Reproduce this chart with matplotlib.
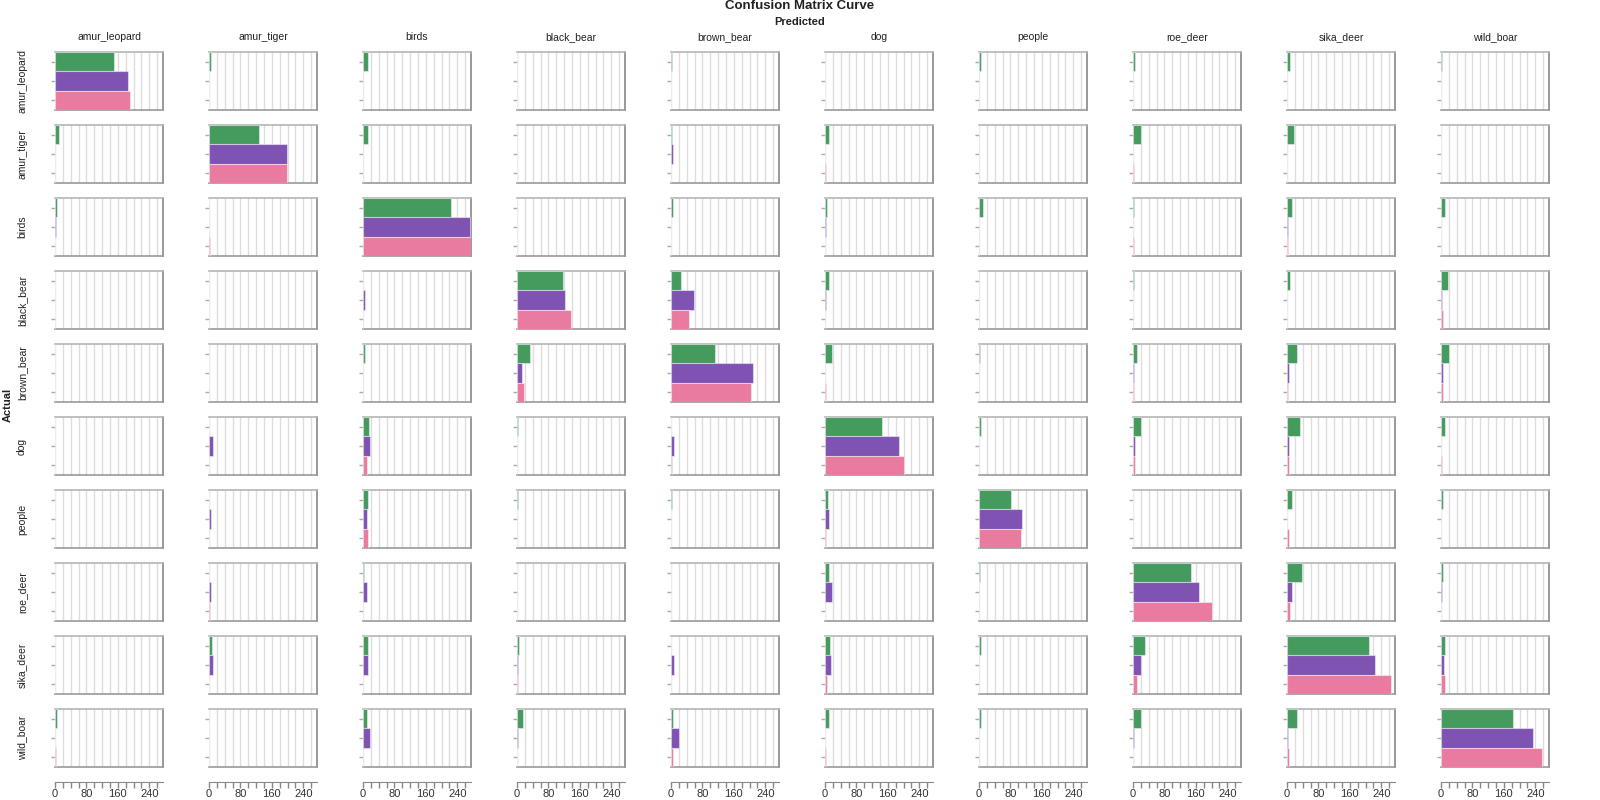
import numpy as np
import matplotlib
matplotlib.use("Agg")
import matplotlib.pyplot as plt
from matplotlib.ticker import MultipleLocator

plt.rcParams['font.family'] = ['Liberation Sans', 'DejaVu Sans']

# class names (actual = rows, predicted = columns)
classes = ["amur_leopard", "amur_tiger", "birds", "black_bear", "brown_bear",
           "dog", "people", "roe_deer", "sika_deer", "wild_boar"]

# three series per cell
green_counts = [
    [149, 5, 12, 0, 2, 1, 4, 4, 7, 3],
    [11, 128, 12, 0, 2, 9, 1, 20, 17, 1],
    [5, 1, 225, 1, 5, 5, 11, 2, 14, 10],
    [1, 0, 1, 118, 25, 11, 1, 3, 7, 18],
    [1, 1, 6, 32, 112, 17, 2, 11, 26, 20],
    [0, 1, 15, 3, 1, 144, 6, 20, 32, 10],
    [1, 0, 14, 2, 3, 7, 82, 1, 14, 4],
    [0, 1, 3, 1, 1, 9, 2, 148, 38, 6],
    [1, 7, 13, 4, 1, 13, 6, 30, 210, 10],
    [5, 0, 9, 16, 5, 10, 4, 20, 26, 183],
]
purple_counts = [
    [187, 0, 1, 1, 0, 1, 0, 0, 1, 1],
    [0, 199, 1, 0, 4, 0, 0, 0, 1, 1],
    [2, 0, 272, 0, 0, 3, 1, 0, 2, 1],
    [0, 1, 5, 123, 58, 3, 0, 0, 0, 2],
    [0, 0, 1, 12, 208, 0, 1, 2, 4, 6],
    [1, 10, 17, 1, 8, 189, 0, 4, 4, 1],
    [1, 5, 9, 0, 1, 9, 109, 0, 1, 0],
    [1, 4, 10, 0, 1, 17, 0, 167, 12, 3],
    [0, 10, 13, 3, 7, 15, 1, 20, 223, 7],
    [1, 1, 17, 3, 20, 0, 0, 2, 2, 235],
]
pink_counts = [
    [191, 0, 1, 0, 0, 0, 0, 0, 0, 0],
    [1, 198, 1, 1, 0, 2, 0, 2, 0, 0],
    [1, 2, 275, 1, 0, 1, 0, 2, 2, 1],
    [0, 0, 0, 138, 46, 1, 0, 1, 1, 5],
    [0, 1, 1, 17, 203, 2, 0, 2, 2, 5],
    [0, 1, 10, 1, 2, 200, 1, 5, 6, 3],
    [0, 1, 12, 1, 0, 2, 107, 1, 5, 1],
    [0, 3, 1, 0, 0, 1, 0, 200, 8, 1],
    [0, 1, 1, 2, 1, 4, 0, 9, 266, 9],
    [2, 1, 1, 1, 6, 2, 0, 1, 4, 257],
]

series_colors = ["#459a5e", "#7f53b2", "#e87b9f"]

green_arr = np.array(green_counts)
purple_arr = np.array(purple_counts)
pink_arr = np.array(pink_counts)
xmax = max(green_arr.max(), purple_arr.max(), pink_arr.max())

W, H = 1600, 800
fig = plt.figure(figsize=(16, 8), dpi=100)

# panel geometry in pixels
left0, col_step, panel_w = 55, 154, 108
top0, row_step, panel_h = 52, 73, 58

n = len(classes)
for r in range(n):
    for c in range(n):
        x0 = left0 + c * col_step
        y0 = top0 + r * row_step
        ax = fig.add_axes([x0 / W, 1 - (y0 + panel_h) / H, panel_w / W, panel_h / H])
        vals = [green_arr[r, c], purple_arr[r, c], pink_arr[r, c]]
        ax.barh([0, 1, 2], vals, height=1.0, color=series_colors,
                edgecolor=(1, 1, 1, 0.45), linewidth=0.8, zorder=3)
        ax.set_xlim(0, xmax)
        ax.set_ylim(2.5, -0.5)
        ax.set_axisbelow(True)
        ax.set_xticks(np.arange(0, xmax, 20))
        ax.grid(axis='x', color='#dddddd', linewidth=1)
        ax.tick_params(axis='x', length=0, labelbottom=False)
        ax.set_yticks([0, 1, 2])
        ax.tick_params(axis='y', length=3, color='#aaaaaa', width=1, labelleft=False)
        ax.spines['left'].set_visible(False)
        ax.spines['top'].set_color('#b5b5b5')
        ax.spines['right'].set_color('#888888')
        ax.spines['bottom'].set_color('#999999')
        for s in ['top', 'right', 'bottom']:
            ax.spines[s].set_linewidth(1.2)

        if r == 0:
            fig.text((x0 + panel_w / 2) / W, 1 - 37 / H, classes[c],
                     ha='center', va='center', fontsize=7.5, color='#222222')
        if c == 0:
            fig.text(22 / W, 1 - (y0 + panel_h / 2) / H, classes[r],
                     ha='center', va='center', rotation=90, fontsize=7.5, color='#222222')
        if r == n - 1:
            sec = ax.secondary_xaxis(-15 / panel_h)
            sec.set_xticks([0, 80, 160, 240])
            sec.xaxis.set_minor_locator(MultipleLocator(20))
            sec.tick_params(which='both', length=4, color='#888888', width=1,
                            labelsize=8, labelcolor='#333333', pad=1)
            sec.spines['bottom'].set_color('#888888')

fig.text(0.5, 1 - 6 / H, "Confusion Matrix Curve", ha='center', va='center',
         fontsize=9.5, fontweight='bold', color='#222222')
fig.text(0.5, 1 - 22 / H, "Predicted", ha='center', va='center',
         fontsize=8, fontweight='bold', color='#222222')
fig.text(8 / W, 1 - 405 / H, "Actual", ha='center', va='center', rotation=90,
         fontsize=8, fontweight='bold', color='#222222')

fig.savefig("out.png", dpi=100, facecolor='white')
